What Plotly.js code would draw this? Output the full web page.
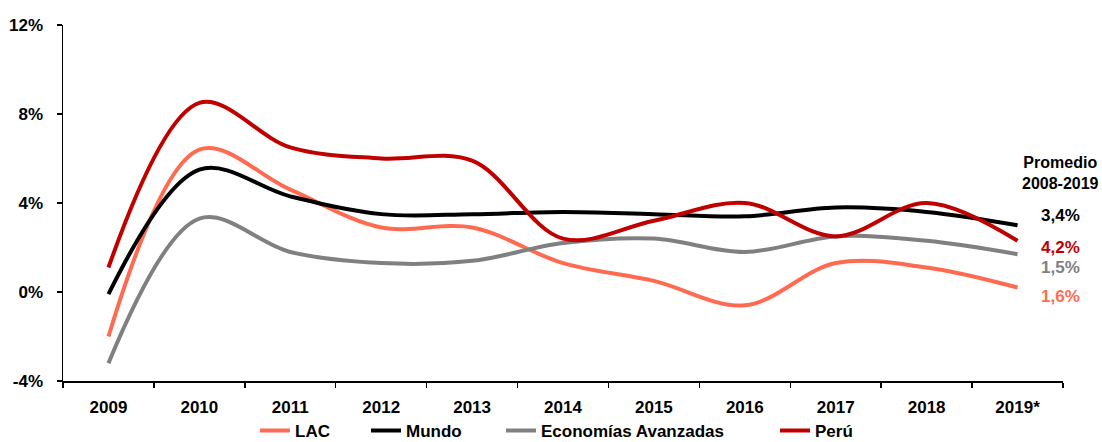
<!DOCTYPE html>
<html>
<head>
<meta charset="utf-8">
<script src="https://cdn.plot.ly/plotly-3.0.1.min.js"></script>
<style>html,body{margin:0;padding:0;background:#fff}#chart{width:1102px;height:442px}</style>
</head>
<body>
<div id="chart"></div>
<script>
const years = ["2009","2010","2011","2012","2013","2014","2015","2016","2017","2018","2019*"];
const lac = [-2.0, 6.4, 4.6, 2.9, 2.9, 1.3, 0.5, -0.6, 1.3, 1.1, 0.2];
const mundo = [-0.1, 5.5, 4.3, 3.5, 3.5, 3.6, 3.5, 3.4, 3.8, 3.6, 3.0];
const avanzadas = [-3.2, 3.3, 1.8, 1.3, 1.4, 2.2, 2.4, 1.8, 2.5, 2.3, 1.7];
const peru = [1.1, 8.5, 6.5, 6.0, 5.9, 2.4, 3.2, 4.0, 2.5, 4.0, 2.3];
const yTicks = [-4, 0, 4, 8, 12];
const yTickText = ["-4%", "0%", "4%", "8%", "12%"];
const promedioLabels = ["3,4%", "4,2%", "1,5%", "1,6%"];
const promedioY = [3.42, 1.98, 1.12, -0.22];

const font = "Liberation Sans, Arial, sans-serif";
const cLac = "#FF6A50", cMundo = "#000000", cAv = "#808080", cPeru = "#C00000";

function tr(name, y, color, leg) {
  return {x: years, y: y, name: name, type: "scatter", mode: "lines", legend: leg,
    line: {color: color, width: 4, shape: "spline", smoothing: 1}};
}
const data = [
  tr("LAC", lac, cLac, "legend"),
  tr("Mundo", mundo, cMundo, "legend2"),
  tr("Economías Avanzadas", avanzadas, cAv, "legend3"),
  tr("Perú", peru, cPeru, "legend4")
];
const labColors = [cMundo, cPeru, cAv, cLac];
const annotations = [{
  xref: "paper", yref: "y", x: 0.997, y: 5.35, text: "Promedio<br>2008-2019",
  showarrow: false, xanchor: "center", yanchor: "middle",
  font: {family: font, size: 16, color: "#000", weight: "bold"}
}];
promedioLabels.forEach((t, i) => annotations.push({
  xref: "paper", yref: "y", x: 0.997, y: promedioY[i], text: t,
  showarrow: false, xanchor: "center", yanchor: "middle",
  font: {family: font, size: 17, color: labColors[i], weight: "bold"}
}));

function leg(px) {
  return {orientation: "h", xref: "container", yref: "container", x: px / 1102, xanchor: "left",
    y: 0.025, yanchor: "middle", itemwidth: 30,
    font: {family: font, size: 17, color: "#000", weight: "bold"},
    bgcolor: "rgba(0,0,0,0)"};
}

const layout = {
  width: 1102, height: 442,
  margin: {l: 63, r: 39, t: 25, b: 61},
  paper_bgcolor: "#fff", plot_bgcolor: "#fff",
  showlegend: true,
  legend: leg(255), legend2: leg(366), legend3: leg(501), legend4: leg(775),
  xaxis: {type: "category", range: [-0.5, 10.5], showgrid: false, zeroline: false,
    automargin: false,
    showline: true, linecolor: "#000", linewidth: 1.5,
    ticks: "outside", tickson: "boundaries", ticklen: 5, tickcolor: "#000", tickwidth: 1.5,
    tickfont: {family: font, size: 17, color: "#000", weight: "bold"}, ticklabelstandoff: 10},
  yaxis: {range: [-4, 12], tickvals: yTicks, ticktext: yTickText, showgrid: false,
    automargin: false,
    zeroline: false, showline: true, linecolor: "#000", linewidth: 1.5,
    ticks: "outside", ticklen: 5, tickcolor: "#000", tickwidth: 1.5,
    tickfont: {family: font, size: 17, color: "#000", weight: "bold"}, ticklabelstandoff: 10},
  annotations: annotations
};
Plotly.newPlot("chart", data, layout, {displayModeBar: false, staticPlot: true});
</script>
</body>
</html>
